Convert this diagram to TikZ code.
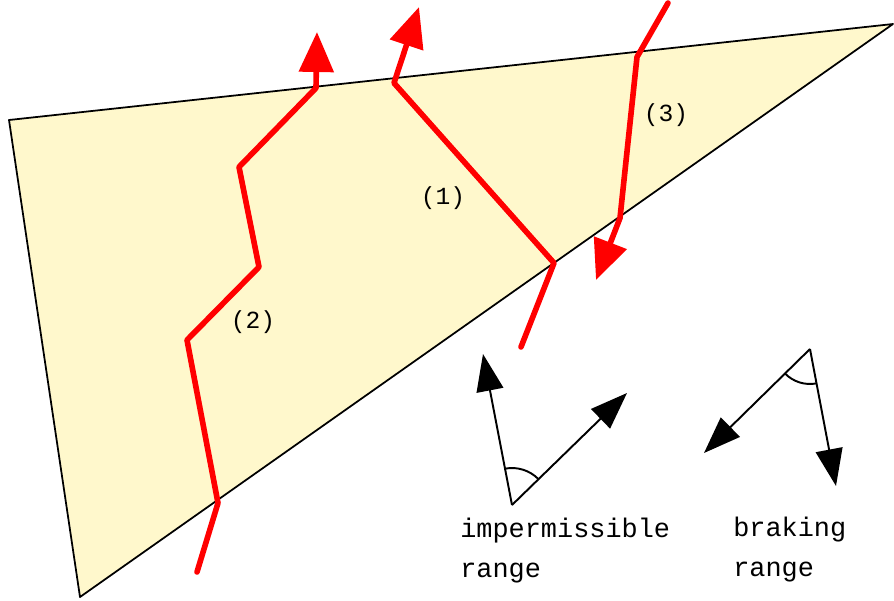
\documentclass[tikz,border=0pt]{standalone}
\usepackage{fontspec}
\setmonofont{Liberation Mono}
\usetikzlibrary{arrows.meta, angles}
\definecolor{paleyellow}{RGB}{255,248,204}

\begin{document}
\begin{tikzpicture}[x=0.02cm, y=-0.02cm,
  crack/.style={red, line width=3.2pt, line cap=round, line join=round,
    -{Triangle[length=0.8cm, width=0.68cm]}},
  vec/.style={line width=1.1pt, -{Triangle[length=0.74cm, width=0.54cm]}},
  num/.style={font=\ttfamily\fontsize{14}{16}\selectfont},
  txt/.style={font=\ttfamily\fontsize{15.3}{18}\selectfont, anchor=base west, inner sep=0pt}]

\useasboundingbox (0,0) rectangle (894,600);

% Dreieck
\draw[fill=paleyellow, line width=1pt, line join=round] (9,120) -- (893,24) -- (80,597) -- cycle;

% Pfade (1), (2), (3)
\draw[crack] (197,572) -- (218,503) -- (187,340) -- (259,267) -- (239,167) -- (316,88) -- (317,32);
\draw[crack] (521,347) -- (554,263) -- (394,83) -- (419,7);
\draw[crack] (668,3) -- (637,57) -- (620,218) -- (596,280);

\node[num] (n1) at (443,198) {(1)};
\node[num] (n2) at (253,322) {(2)};
\node[num] (n3) at (666,115) {(3)};

% unzulaessiger Bereich
\coordinate (v1) at (512,505);
\coordinate (u1) at (483,354);
\coordinate (r1) at (627,393);
\draw[vec] (v1) -- (u1);
\draw[vec] (v1) -- (r1);
\pic[draw, line width=1.1pt, angle radius=0.74cm] {angle = r1--v1--u1};
\node[txt] (imp1) at (460,537) {impermissible};
\node[txt] (imp2) at (460,577) {range};

% Bremsbereich
\coordinate (v2) at (810,349);
\coordinate (l2) at (704,453);
\coordinate (d2) at (836,486);
\draw[vec] (v2) -- (l2);
\draw[vec] (v2) -- (d2);
\pic[draw, line width=1.1pt, angle radius=0.7cm] {angle = l2--v2--d2};
\node[txt] (brk1) at (733,536) {braking};
\node[txt] (brk2) at (733,576) {range};

\end{tikzpicture}
\end{document}
